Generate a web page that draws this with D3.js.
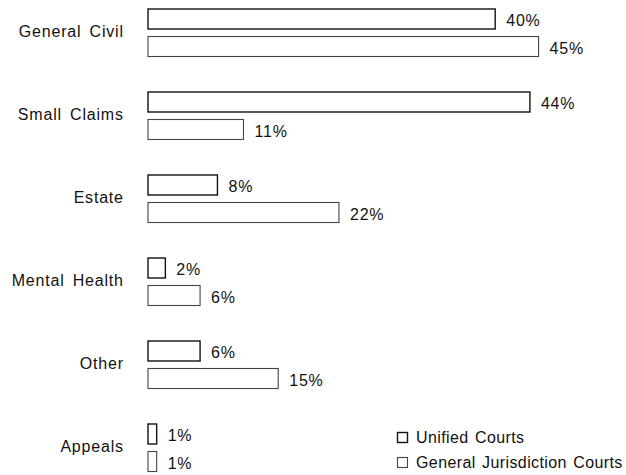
<!DOCTYPE html>
<html><head><meta charset="utf-8">
<script src="https://cdn.jsdelivr.net/npm/d3@7"></script>
<style>body{margin:0;background:#fff}svg{display:block}text{font-family:"Liberation Sans",Arial,sans-serif;fill:#111}</style>
</head><body>
<script>
const categories = ["General Civil","Small Claims","Estate","Mental Health","Other","Appeals"];
const series = ["Unified Courts","General Jurisdiction Courts"];
const unified = [40,44,8,2,6,1];
const generalJurisdiction = [45,11,22,6,15,1];

const W=626,H=475;
const svg=d3.select("body").append("svg").attr("width",W).attr("height",H);
const x=d3.scaleLinear().domain([0,45]).range([148,538.6]);
const y0=d3.scaleBand().domain(categories).range([9,471.5]).paddingInner(0.4277);
const y1=d3.scaleBand().domain(series).range([0,y0.bandwidth()]).paddingInner(0.273);
const styles={"Unified Courts":{stroke:"#111",sw:1.4},"General Jurisdiction Courts":{stroke:"#444",sw:1.1}};
const rows=[];
categories.forEach((c,i)=>{rows.push({c,s:series[0],v:unified[i]});rows.push({c,s:series[1],v:generalJurisdiction[i]});});

svg.selectAll("rect.bar").data(rows).join("rect").attr("class","bar")
 .attr("x",x(0)).attr("y",d=>y0(d.c)+y1(d.s)).attr("width",d=>x(d.v)-x(0)).attr("height",y1.bandwidth())
 .attr("fill","#fff").attr("stroke",d=>styles[d.s].stroke).attr("stroke-width",d=>styles[d.s].sw);
svg.selectAll("text.val").data(rows).join("text").attr("class","val")
 .attr("x",d=>x(d.v)+11).attr("y",d=>y0(d.c)+y1(d.s)+y1.bandwidth()/2+1.5).attr("dy","0.35em")
 .attr("font-size",16).attr("letter-spacing","0.8px").text(d=>d.v+"%");
svg.selectAll("text.cat").data(categories).join("text").attr("class","cat")
 .attr("x",123.8).attr("y",d=>y0(d)+y0.bandwidth()/2-1).attr("dy","0.35em").attr("text-anchor","end")
 .attr("font-size",16).attr("letter-spacing","0.8px").attr("word-spacing","3px").text(d=>d);
const lg=svg.append("g");
series.forEach((s,i)=>{
 const yy=432+i*25;
 lg.append("rect").attr("x",397.5).attr("y",yy+0.5).attr("width",10).attr("height",10).attr("fill","#fff")
  .attr("stroke",styles[s].stroke).attr("stroke-width",styles[s].sw);
 lg.append("text").attr("x",416).attr("y",yy+11).attr("font-size",16).attr("letter-spacing","0.4px").attr("word-spacing","1.5px").text(s);
});
</script></body></html>
